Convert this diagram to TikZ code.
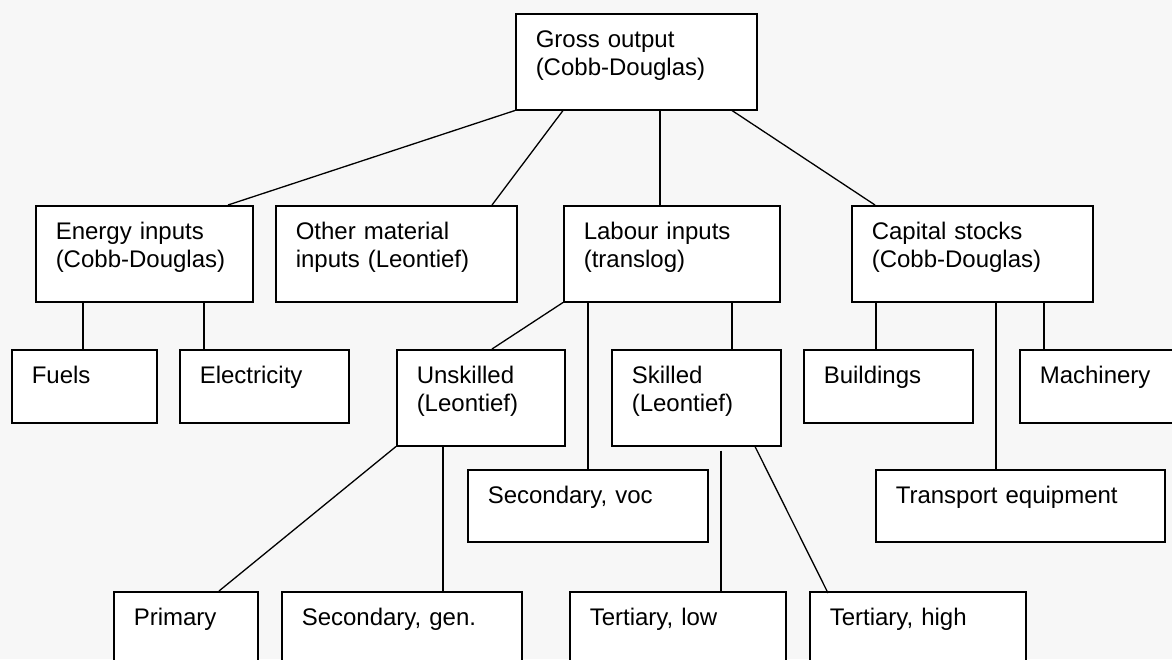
\documentclass[tikz,border=0pt]{standalone}
\usepackage{fontspec}
\setmainfont{Liberation Sans}
\definecolor{bgc}{HTML}{F7F7F7}
\tikzset{
  box/.style={draw, fill=white, line width=1.5pt, anchor=north west, align=left,
    inner xsep=20pt, inner ysep=0pt, text height=34pt,
    font=\fontsize{24}{28}\selectfont},
  bx/.style n args={2}{box, text width=#1pt-40pt, text depth=#2pt-34pt},
  conn/.style={line width=1.3pt}
}
\begin{document}
\begin{tikzpicture}[x=1pt,y=-1pt]
\fill[bgc] (0,0) rectangle (1172,659);
\useasboundingbox (0,0) rectangle (1172,659);
\clip (0,0) rectangle (1172,659);
% boxes
\node[bx={241}{96}] (gross) at (515,13) {Gross output\\(Cobb-Douglas)};
\node[bx={217}{96}] (energy) at (35,205) {Energy inputs\\(Cobb-Douglas)};
\node[bx={241}{96}] (other) at (275,205) {Other material\\inputs (Leontief)};
\node[bx={216}{96}] (labour) at (563,205) {Labour inputs\\(translog)};
\node[bx={241}{96}] (capital) at (851,205) {Capital stocks\\(Cobb-Douglas)};
\node[bx={145}{73}] (fuels) at (11,349) {Fuels};
\node[bx={169}{73}] (elec) at (179,349) {Electricity};
\node[bx={168}{96}] (unsk) at (396,349) {Unskilled\\(Leontief)};
\node[bx={169}{96}] (skill) at (611,349) {Skilled\\(Leontief)};
\node[bx={169}{73}] (buil) at (803,349) {Buildings};
\node[bx={170}{73}] (mach) at (1019,349) {Machinery};
\node[bx={240}{72}] (secvoc) at (467,469) {Secondary, voc};
\node[bx={289}{72}] (trans) at (875,469) {Transport equipment};
\node[bx={144}{80}] (prim) at (113,591) {Primary};
\node[bx={240}{80}] (secgen) at (281,591) {Secondary, gen.};
\node[bx={216}{80}] (terlow) at (569,591) {Tertiary, low};
\node[bx={216}{80}] (terhigh) at (809,591) {Tertiary, high};
% connectors
\draw[conn] (gross.south west) -- ([xshift=193pt]energy.north west);
\draw[conn] ([xshift=48pt]gross.south west) -- ([xshift=217pt]other.north west);
\draw[conn] ([xshift=145pt]gross.south west) -- ([xshift=97pt]labour.north west);
\draw[conn] ([xshift=217pt]gross.south west) -- ([xshift=24pt]capital.north west);
\draw[conn] ([xshift=48pt]energy.south west) -- ([xshift=72pt]fuels.north west);
\draw[conn] ([xshift=169pt]energy.south west) -- ([xshift=25pt]elec.north west);
\draw[conn] (labour.south west) -- ([xshift=96pt]unsk.north west);
\draw[conn] ([xshift=25pt]labour.south west) -- ([xshift=121pt]secvoc.north west);
\draw[conn] ([xshift=169pt]labour.south west) -- ([xshift=121pt]skill.north west);
\draw[conn] (unsk.south west) -- ([xshift=106pt]prim.north west);
\draw[conn] ([xshift=47pt]unsk.south west) -- ([xshift=162pt,yshift=-2pt]secgen.north west);
\draw[conn] ([xshift=110pt,yshift=-4pt]skill.south west) -- ([xshift=152pt]terlow.north west);
\draw[conn] ([xshift=144pt]skill.south west) -- ([xshift=19pt,yshift=-2pt]terhigh.north west);
\draw[conn] ([xshift=25pt]capital.south west) -- ([xshift=73pt]buil.north west);
\draw[conn] ([xshift=145pt]capital.south west) -- ([xshift=121pt]trans.north west);
\draw[conn] ([xshift=193pt]capital.south west) -- ([xshift=25pt]mach.north west);
\end{tikzpicture}
\end{document}
